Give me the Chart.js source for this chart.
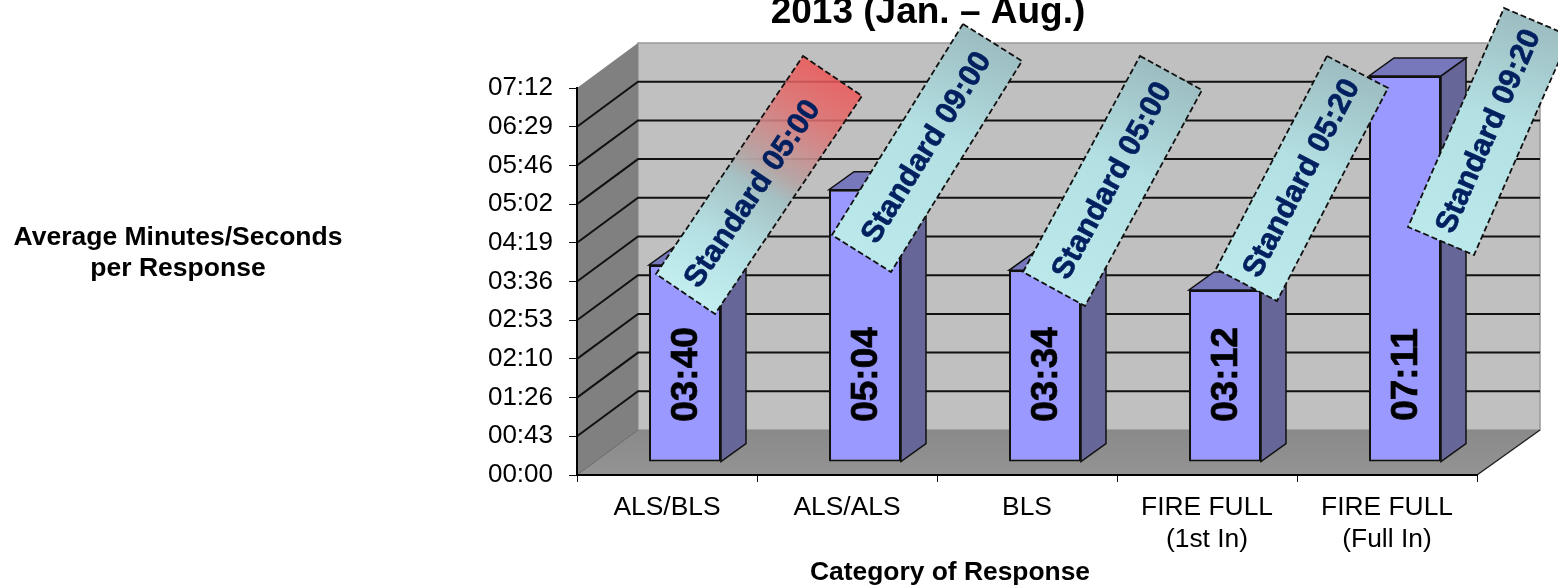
<!DOCTYPE html>
<html>
<head>
<meta charset="utf-8">
<style>
  html, body { margin: 0; padding: 0; background: #fff; overflow: hidden; }
  canvas { display: block; }
</style>
<script src="https://cdn.jsdelivr.net/npm/chart.js@4"></script>
</head>
<body>
<canvas id="myChart" width="1558" height="587"></canvas>
<script>
const categories = ['ALS/BLS', 'ALS/ALS', 'BLS', ['FIRE FULL', '(1st In)'], ['FIRE FULL', '(Full In)']];
const responseSeconds = [220, 304, 214, 192, 431];
const responseLabels = ['03:40', '05:04', '03:34', '03:12', '07:11'];
const standardLabels = ['Standard 05:00', 'Standard 09:00', 'Standard 05:00', 'Standard 05:20', 'Standard 09:20'];
const yTickLabels = ['00:00', '00:43', '01:26', '02:10', '02:53', '03:36', '04:19', '05:02', '05:46', '06:29', '07:12'];

const FONT = '"Liberation Sans", Arial, sans-serif';

// 3d look: wall depth and how far the bars sit back from the front plane
const wallDepth = { x: 61, y: -45 };
const barInset = { x: 18, y: -13 };
const barDepth = { x: 25, y: -18 };

// the tilted "Standard" notes: corners are left/top/bottom, the right one is derived
const noteBoxes = [
  { left: [656, 274], top: [803, 56], bottom: [715, 314], textShift: -11, alert: true },
  { left: [832, 235], top: [963, 24], bottom: [891, 272], textShift: 0 },
  { left: [1023, 272], top: [1140, 56], bottom: [1085, 306], textShift: 0 },
  { left: [1216, 269], top: [1327, 56], bottom: [1277, 301], textShift: 0 },
  { left: [1408, 227], top: [1504, 8], bottom: [1474, 255], textShift: 0 }
];

function poly(ctx, pts, fill, stroke, lineWidth) {
  ctx.beginPath();
  pts.forEach((p, i) => i ? ctx.lineTo(p[0], p[1]) : ctx.moveTo(p[0], p[1]));
  ctx.closePath();
  if (fill) { ctx.fillStyle = fill; ctx.fill(); }
  if (stroke) { ctx.strokeStyle = stroke; ctx.lineWidth = lineWidth || 1; ctx.stroke(); }
}

function text(ctx, str, x, y, font, color) {
  ctx.font = font;
  ctx.fillStyle = color || '#000';
  ctx.textAlign = 'center';
  ctx.textBaseline = 'alphabetic';
  ctx.fillText(str, x, y);
}

const walls = {
  id: 'walls',
  beforeDraw(chart) {
    const { ctx, chartArea: a, scales } = chart;
    const dx = wallDepth.x, dy = wallDepth.y;
    ctx.save();
    ctx.fillStyle = '#fff';
    ctx.fillRect(0, 0, chart.width, chart.height);

    // back wall, left wall, floor
    poly(ctx, [[a.left + dx, a.top + dy], [a.right + dx + 2, a.top + dy], [a.right + dx + 2, a.bottom + dy], [a.left + dx, a.bottom + dy]], '#c0c0c0', '#999', 1.5);
    poly(ctx, [[a.left, a.top], [a.left + dx, a.top + dy], [a.left + dx, a.bottom + dy], [a.left, a.bottom]], '#808080');
    const floor = ctx.createLinearGradient(0, a.bottom + dy, 0, a.bottom);
    floor.addColorStop(0, '#8a8a8a');
    floor.addColorStop(1, '#939393');
    poly(ctx, [[a.left, a.bottom], [a.left + dx, a.bottom + dy], [a.right + dx + 2, a.bottom + dy], [a.right, a.bottom]], floor);

    // gridlines run up the left wall then along the back, the top edge stays plain
    scales.y.ticks.forEach(t => {
      if (t.value >= scales.y.max) return;
      const y = scales.y.getPixelForValue(t.value);
      ctx.beginPath();
      ctx.moveTo(a.left, y);
      ctx.lineTo(a.left + dx, y + dy);
      if (t.value > 0) ctx.lineTo(a.right + dx + 2, y + dy);
      ctx.strokeStyle = t.value > 0 ? '#111' : '#666';
      ctx.lineWidth = t.value > 0 ? 2 : 1;
      ctx.stroke();
    });

    // edge where the back wall meets the floor
    ctx.beginPath();
    ctx.moveTo(a.right + dx + 2, a.bottom + dy);
    ctx.lineTo(a.right, a.bottom);
    ctx.strokeStyle = '#222';
    ctx.lineWidth = 1.5;
    ctx.stroke();
    ctx.restore();
  }
};

const bars3d = {
  id: 'bars3d',
  beforeDatasetsDraw(chart) {
    const ctx = chart.ctx;
    ctx.save();
    ctx.translate(barInset.x, barInset.y);
    const dx = barDepth.x, dy = barDepth.y;
    chart.getDatasetMeta(0).data.forEach(el => {
      const b = el.getProps(['x', 'y', 'base', 'width'], true);
      const l = b.x - b.width / 2, r = b.x + b.width / 2;
      poly(ctx, [[r, b.y], [r + dx, b.y + dy], [r + dx, b.base + dy], [r, b.base]], '#666699', '#111', 1.5);
      poly(ctx, [[l, b.y], [r, b.y], [r + dx, b.y + dy], [l + dx, b.y + dy]], '#7777bb', '#111', 1.5);
    });
  },
  afterDatasetsDraw(chart) {
    const ctx = chart.ctx;
    ctx.restore();

    // value labels stand on their side inside the bars
    chart.getDatasetMeta(0).data.forEach((el, i) => {
      const b = el.getProps(['x', 'base'], true);
      ctx.save();
      ctx.translate(b.x + barInset.x + 2, b.base + barInset.y - 87);
      ctx.rotate(-Math.PI / 2);
      ctx.font = 'bold 37px ' + FONT;
      ctx.fillStyle = '#000';
      ctx.strokeStyle = '#000';
      ctx.lineWidth = 0.7;
      ctx.textAlign = 'center';
      ctx.textBaseline = 'middle';
      ctx.fillText(responseLabels[i], 0, 0);
      ctx.strokeText(responseLabels[i], 0, 0);
      ctx.restore();
    });
  }
};

const notes = {
  id: 'notes',
  afterDraw(chart) {
    const ctx = chart.ctx;
    ctx.save();

    text(ctx, '2013 (Jan. \u2013 Aug.)', 928, 23, 'bold 37px ' + FONT);
    text(ctx, 'Average Minutes/Seconds', 178, 245, 'bold 26.5px ' + FONT);
    text(ctx, 'per Response', 178, 276, 'bold 26.5px ' + FONT);
    text(ctx, 'Category of Response', 950, 580, 'bold 26.4px ' + FONT);

    noteBoxes.forEach((box, i) => {
      const L = box.left, T = box.top, B = box.bottom;
      const R = [T[0] + B[0] - L[0], T[1] + B[1] - L[1]];
      const grad = ctx.createLinearGradient(T[0], T[1], L[0] + (B[0] - L[0]) * 0.3, L[1] + (B[1] - L[1]) * 0.3);
      if (box.alert) {
        grad.addColorStop(0, 'rgba(238,84,84,0.85)');
        grad.addColorStop(0.19, 'rgba(224,112,112,0.85)');
        grad.addColorStop(0.32, 'rgba(202,142,142,0.9)');
        grad.addColorStop(0.43, 'rgba(181,165,165,0.95)');
        grad.addColorStop(0.52, '#a5c0c2');
        grad.addColorStop(0.76, '#b5e0e3');
        grad.addColorStop(1, '#c3eef0');
      } else {
        grad.addColorStop(0, '#9cbcc0');
        grad.addColorStop(0.45, '#b3e0e3');
        grad.addColorStop(1, '#bbe9eb');
      }
      ctx.save();
      ctx.setLineDash([6, 3]);
      poly(ctx, [T, R, B, L], grad, '#111', 1.8);
      ctx.restore();

      const angle = Math.atan2(T[1] - L[1], T[0] - L[0]);
      ctx.save();
      ctx.translate((T[0] + B[0]) / 2 + Math.cos(angle) * box.textShift, (T[1] + B[1]) / 2 + Math.sin(angle) * box.textShift);
      ctx.rotate(angle);
      ctx.font = 'bold 30.5px ' + FONT;
      ctx.fillStyle = '#002060';
      ctx.strokeStyle = '#002060';
      ctx.lineWidth = 0.6;
      ctx.textAlign = 'center';
      ctx.textBaseline = 'middle';
      ctx.fillText(standardLabels[i], 0, 0);
      ctx.strokeText(standardLabels[i], 0, 0);
      ctx.restore();
    });
    ctx.restore();
  }
};

const ctx = document.getElementById('myChart').getContext('2d');
const myChart = new Chart(ctx, {
  type: 'bar',
  data: {
    labels: categories,
    datasets: [{
      label: 'Average Minutes/Seconds per Response',
      data: responseSeconds,
      backgroundColor: '#9999ff',
      borderColor: '#111',
      borderWidth: 2,
      borderSkipped: false,
      categoryPercentage: 0.4,
      barPercentage: 1
    }]
  },
  options: {
    responsive: false,
    animation: false,
    layout: { padding: { top: 88, right: 81, left: 0, bottom: 0 } },
    plugins: {
      legend: { display: false },
      title: { display: false },
      tooltip: { enabled: false }
    },
    scales: {
      x: {
        afterFit: scale => { scale.height = 112; },
        grid: { drawOnChartArea: false, color: '#111', tickLength: 7 },
        border: { color: '#000', width: 2 },
        ticks: { color: '#000', font: { family: FONT, size: 26.4, lineHeight: 1.2 }, padding: 10, maxRotation: 0, autoSkip: false }
      },
      y: {
        min: 0,
        max: 432,
        afterFit: scale => { scale.width = 577; },
        grid: { drawOnChartArea: false, color: '#111', tickLength: 8 },
        border: { color: '#000', width: 2 },
        ticks: {
          stepSize: 43.2,
          color: '#000',
          padding: 16,
          font: { family: FONT, size: 26 },
          callback: (v, i) => yTickLabels[i]
        }
      }
    }
  },
  plugins: [walls, bars3d, notes]
});
</script>
</body>
</html>
